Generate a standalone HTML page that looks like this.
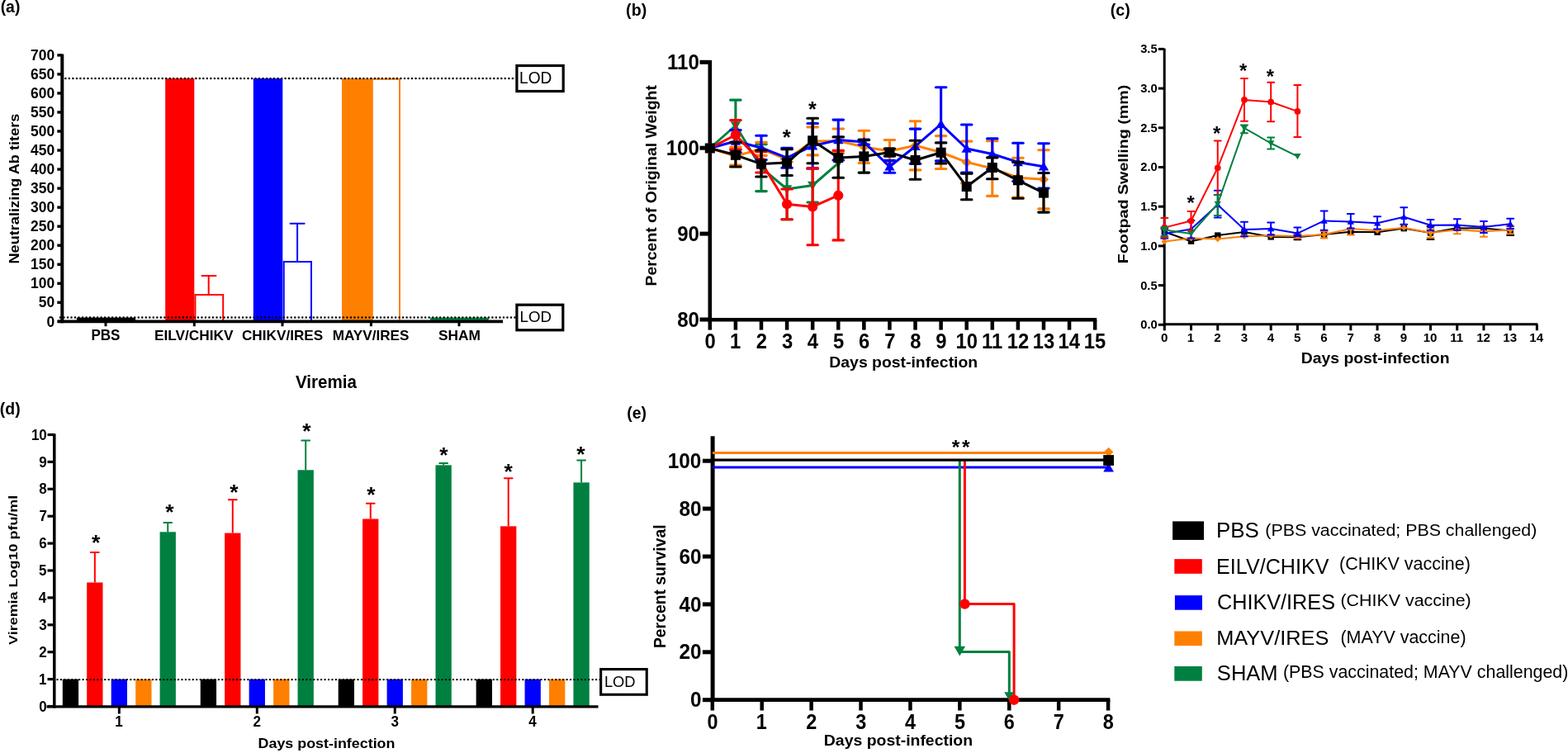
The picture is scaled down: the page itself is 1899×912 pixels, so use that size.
<!DOCTYPE html>
<html><head><meta charset="utf-8"><title>Figure</title>
<style>html,body{margin:0;padding:0;background:#fff;overflow:hidden;width:1899px;height:912px;} svg{display:block;font-family:"Liberation Sans",Arial,sans-serif;}</style>
</head><body>
<svg width="1899" height="912" viewBox="0 0 1899 912">
<rect width="1899" height="912" fill="#fff"/>
<rect x="92.90" y="384.60" width="71.20" height="4.80" fill="#000000"/>
<rect x="521.10" y="384.60" width="70.70" height="4.80" fill="#008040"/>
<rect x="200.20" y="95.00" width="35.10" height="294.40" fill="#ff0000"/>
<polyline points="236.40,389.00 236.40,357.00 270.20,357.00 270.20,389.00" fill="none" stroke="#ff0000" stroke-width="2" stroke-linejoin="miter"/>
<line x1="252.70" y1="357.00" x2="252.70" y2="334.10" stroke="#ff0000" stroke-width="2"/>
<line x1="244.50" y1="334.10" x2="261.50" y2="334.10" stroke="#ff0000" stroke-width="2.0" stroke-linecap="round"/>
<rect x="306.80" y="95.00" width="35.50" height="294.40" fill="#0000ff"/>
<polyline points="343.70,389.00 343.70,317.10 377.00,317.10 377.00,389.00" fill="none" stroke="#0000ff" stroke-width="2" stroke-linejoin="miter"/>
<line x1="360.10" y1="317.10" x2="360.10" y2="270.70" stroke="#0000ff" stroke-width="2"/>
<line x1="351.60" y1="270.70" x2="368.60" y2="270.70" stroke="#0000ff" stroke-width="2.0" stroke-linecap="round"/>
<rect x="414.00" y="95.00" width="36.00" height="294.40" fill="#ff8000"/>
<polyline points="450.80,389.00 450.80,95.80 484.00,95.80 484.00,389.00" fill="none" stroke="#ff8000" stroke-width="2" stroke-linejoin="miter"/>
<line x1="75.30" y1="65.40" x2="75.30" y2="391.30" stroke="#000" stroke-width="4"/>
<line x1="69.30" y1="389.35" x2="75.30" y2="389.35" stroke="#000" stroke-width="3.4"/>
<line x1="69.30" y1="366.31" x2="75.30" y2="366.31" stroke="#000" stroke-width="3.4"/>
<line x1="69.30" y1="343.28" x2="75.30" y2="343.28" stroke="#000" stroke-width="3.4"/>
<line x1="69.30" y1="320.25" x2="75.30" y2="320.25" stroke="#000" stroke-width="3.4"/>
<line x1="69.30" y1="297.21" x2="75.30" y2="297.21" stroke="#000" stroke-width="3.4"/>
<line x1="69.30" y1="274.18" x2="75.30" y2="274.18" stroke="#000" stroke-width="3.4"/>
<line x1="69.30" y1="251.14" x2="75.30" y2="251.14" stroke="#000" stroke-width="3.4"/>
<line x1="69.30" y1="228.11" x2="75.30" y2="228.11" stroke="#000" stroke-width="3.4"/>
<line x1="69.30" y1="205.07" x2="75.30" y2="205.07" stroke="#000" stroke-width="3.4"/>
<line x1="69.30" y1="182.04" x2="75.30" y2="182.04" stroke="#000" stroke-width="3.4"/>
<line x1="69.30" y1="159.00" x2="75.30" y2="159.00" stroke="#000" stroke-width="3.4"/>
<line x1="69.30" y1="135.97" x2="75.30" y2="135.97" stroke="#000" stroke-width="3.4"/>
<line x1="69.30" y1="112.93" x2="75.30" y2="112.93" stroke="#000" stroke-width="3.4"/>
<line x1="69.30" y1="89.90" x2="75.30" y2="89.90" stroke="#000" stroke-width="3.4"/>
<line x1="69.30" y1="66.86" x2="75.30" y2="66.86" stroke="#000" stroke-width="3.4"/>
<line x1="70.00" y1="389.40" x2="609.00" y2="389.40" stroke="#000" stroke-width="3.6"/>
<line x1="128.00" y1="389.40" x2="128.00" y2="395.20" stroke="#000" stroke-width="3"/>
<line x1="235.30" y1="389.40" x2="235.30" y2="395.20" stroke="#000" stroke-width="3"/>
<line x1="342.00" y1="389.40" x2="342.00" y2="395.20" stroke="#000" stroke-width="3"/>
<line x1="449.40" y1="389.40" x2="449.40" y2="395.20" stroke="#000" stroke-width="3"/>
<line x1="556.00" y1="389.40" x2="556.00" y2="395.20" stroke="#000" stroke-width="3"/>
<line x1="79.37" y1="95.05" x2="623.00" y2="95.05" stroke="#000" stroke-width="2.5" stroke-linecap="round" stroke-dasharray="0 4.5123"/>
<line x1="72.98" y1="384.60" x2="624.00" y2="384.60" stroke="#000" stroke-width="2.5" stroke-linecap="round" stroke-dasharray="0 4.5123"/>
<rect x="625.90" y="79.50" width="56.30" height="31.00" fill="none" stroke="#000000" stroke-width="3.2"/>
<rect x="625.90" y="369.20" width="55.90" height="30.60" fill="none" stroke="#000000" stroke-width="3.2"/>
<line x1="859.80" y1="72.90" x2="859.80" y2="389.30" stroke="#000" stroke-width="4.6"/>
<line x1="847.50" y1="387.00" x2="859.80" y2="387.00" stroke="#000" stroke-width="5"/>
<line x1="847.50" y1="283.10" x2="859.80" y2="283.10" stroke="#000" stroke-width="5"/>
<line x1="847.50" y1="179.20" x2="859.80" y2="179.20" stroke="#000" stroke-width="5"/>
<line x1="847.50" y1="75.30" x2="859.80" y2="75.30" stroke="#000" stroke-width="5"/>
<line x1="857.50" y1="387.30" x2="1328.20" y2="387.30" stroke="#000" stroke-width="4.6"/>
<line x1="859.80" y1="387.30" x2="859.80" y2="399.60" stroke="#000" stroke-width="4.5"/>
<line x1="890.89" y1="387.30" x2="890.89" y2="399.60" stroke="#000" stroke-width="4.5"/>
<line x1="921.98" y1="387.30" x2="921.98" y2="399.60" stroke="#000" stroke-width="4.5"/>
<line x1="953.07" y1="387.30" x2="953.07" y2="399.60" stroke="#000" stroke-width="4.5"/>
<line x1="984.16" y1="387.30" x2="984.16" y2="399.60" stroke="#000" stroke-width="4.5"/>
<line x1="1015.25" y1="387.30" x2="1015.25" y2="399.60" stroke="#000" stroke-width="4.5"/>
<line x1="1046.34" y1="387.30" x2="1046.34" y2="399.60" stroke="#000" stroke-width="4.5"/>
<line x1="1077.43" y1="387.30" x2="1077.43" y2="399.60" stroke="#000" stroke-width="4.5"/>
<line x1="1108.52" y1="387.30" x2="1108.52" y2="399.60" stroke="#000" stroke-width="4.5"/>
<line x1="1139.61" y1="387.30" x2="1139.61" y2="399.60" stroke="#000" stroke-width="4.5"/>
<line x1="1170.70" y1="387.30" x2="1170.70" y2="399.60" stroke="#000" stroke-width="4.5"/>
<line x1="1201.79" y1="387.30" x2="1201.79" y2="399.60" stroke="#000" stroke-width="4.5"/>
<line x1="1232.88" y1="387.30" x2="1232.88" y2="399.60" stroke="#000" stroke-width="4.5"/>
<line x1="1263.97" y1="387.30" x2="1263.97" y2="399.60" stroke="#000" stroke-width="4.5"/>
<line x1="1295.06" y1="387.30" x2="1295.06" y2="399.60" stroke="#000" stroke-width="4.5"/>
<line x1="1326.15" y1="387.30" x2="1326.15" y2="399.60" stroke="#000" stroke-width="4.5"/>
<polyline points="859.80,179.50 890.89,152.00 921.98,203.20 953.07,229.00 984.16,224.50 1015.25,197.70" fill="none" stroke="#008040" stroke-width="3.0" stroke-linejoin="round"/>
<line x1="890.89" y1="121.10" x2="890.89" y2="181.00" stroke="#008040" stroke-width="3.1"/>
<line x1="884.64" y1="121.10" x2="897.14" y2="121.10" stroke="#008040" stroke-width="3.1" stroke-linecap="round"/>
<line x1="884.64" y1="181.00" x2="897.14" y2="181.00" stroke="#008040" stroke-width="3.1" stroke-linecap="round"/>
<line x1="921.98" y1="174.80" x2="921.98" y2="231.60" stroke="#008040" stroke-width="3.1"/>
<line x1="915.73" y1="174.80" x2="928.23" y2="174.80" stroke="#008040" stroke-width="3.1" stroke-linecap="round"/>
<line x1="915.73" y1="231.60" x2="928.23" y2="231.60" stroke="#008040" stroke-width="3.1" stroke-linecap="round"/>
<line x1="953.07" y1="192.30" x2="953.07" y2="265.70" stroke="#008040" stroke-width="3.1"/>
<line x1="946.82" y1="192.30" x2="959.32" y2="192.30" stroke="#008040" stroke-width="3.1" stroke-linecap="round"/>
<line x1="946.82" y1="265.70" x2="959.32" y2="265.70" stroke="#008040" stroke-width="3.1" stroke-linecap="round"/>
<line x1="984.16" y1="204.00" x2="984.16" y2="245.00" stroke="#008040" stroke-width="3.1"/>
<line x1="977.91" y1="204.00" x2="990.41" y2="204.00" stroke="#008040" stroke-width="3.1" stroke-linecap="round"/>
<line x1="977.91" y1="245.00" x2="990.41" y2="245.00" stroke="#008040" stroke-width="3.1" stroke-linecap="round"/>
<polygon points="859.80,185.38 865.96,174.74 853.64,174.74" fill="#008040"/>
<polygon points="890.89,157.88 897.05,147.24 884.73,147.24" fill="#008040"/>
<polygon points="921.98,209.08 928.14,198.44 915.82,198.44" fill="#008040"/>
<polygon points="953.07,234.88 959.23,224.24 946.91,224.24" fill="#008040"/>
<polygon points="984.16,230.38 990.32,219.74 978.00,219.74" fill="#008040"/>
<polygon points="1015.25,203.58 1021.41,192.94 1009.09,192.94" fill="#008040"/>
<polyline points="859.80,179.50 890.89,189.00 921.98,180.40 953.07,193.00 984.16,170.90 1015.25,170.70 1046.34,177.90 1077.43,183.00 1108.52,176.30 1139.61,184.50 1170.70,196.40 1201.79,204.00 1232.88,215.20 1263.97,217.30" fill="none" stroke="#ff8000" stroke-width="3.0" stroke-linejoin="round"/>
<line x1="890.89" y1="178.40" x2="890.89" y2="200.10" stroke="#ff8000" stroke-width="3.1"/>
<line x1="884.64" y1="178.40" x2="897.14" y2="178.40" stroke="#ff8000" stroke-width="3.1" stroke-linecap="round"/>
<line x1="884.64" y1="200.10" x2="897.14" y2="200.10" stroke="#ff8000" stroke-width="3.1" stroke-linecap="round"/>
<line x1="921.98" y1="172.30" x2="921.98" y2="188.40" stroke="#ff8000" stroke-width="3.1"/>
<line x1="915.73" y1="172.30" x2="928.23" y2="172.30" stroke="#ff8000" stroke-width="3.1" stroke-linecap="round"/>
<line x1="915.73" y1="188.40" x2="928.23" y2="188.40" stroke="#ff8000" stroke-width="3.1" stroke-linecap="round"/>
<line x1="953.07" y1="190.00" x2="953.07" y2="196.00" stroke="#ff8000" stroke-width="3.1"/>
<line x1="946.82" y1="190.00" x2="959.32" y2="190.00" stroke="#ff8000" stroke-width="3.1" stroke-linecap="round"/>
<line x1="946.82" y1="196.00" x2="959.32" y2="196.00" stroke="#ff8000" stroke-width="3.1" stroke-linecap="round"/>
<line x1="984.16" y1="153.90" x2="984.16" y2="187.90" stroke="#ff8000" stroke-width="3.1"/>
<line x1="977.91" y1="153.90" x2="990.41" y2="153.90" stroke="#ff8000" stroke-width="3.1" stroke-linecap="round"/>
<line x1="977.91" y1="187.90" x2="990.41" y2="187.90" stroke="#ff8000" stroke-width="3.1" stroke-linecap="round"/>
<line x1="1015.25" y1="156.00" x2="1015.25" y2="185.40" stroke="#ff8000" stroke-width="3.1"/>
<line x1="1009.00" y1="156.00" x2="1021.50" y2="156.00" stroke="#ff8000" stroke-width="3.1" stroke-linecap="round"/>
<line x1="1009.00" y1="185.40" x2="1021.50" y2="185.40" stroke="#ff8000" stroke-width="3.1" stroke-linecap="round"/>
<line x1="1046.34" y1="158.30" x2="1046.34" y2="197.50" stroke="#ff8000" stroke-width="3.1"/>
<line x1="1040.09" y1="158.30" x2="1052.59" y2="158.30" stroke="#ff8000" stroke-width="3.1" stroke-linecap="round"/>
<line x1="1040.09" y1="197.50" x2="1052.59" y2="197.50" stroke="#ff8000" stroke-width="3.1" stroke-linecap="round"/>
<line x1="1077.43" y1="169.50" x2="1077.43" y2="196.40" stroke="#ff8000" stroke-width="3.1"/>
<line x1="1071.18" y1="169.50" x2="1083.68" y2="169.50" stroke="#ff8000" stroke-width="3.1" stroke-linecap="round"/>
<line x1="1071.18" y1="196.40" x2="1083.68" y2="196.40" stroke="#ff8000" stroke-width="3.1" stroke-linecap="round"/>
<line x1="1108.52" y1="146.70" x2="1108.52" y2="205.90" stroke="#ff8000" stroke-width="3.1"/>
<line x1="1102.27" y1="146.70" x2="1114.77" y2="146.70" stroke="#ff8000" stroke-width="3.1" stroke-linecap="round"/>
<line x1="1102.27" y1="205.90" x2="1114.77" y2="205.90" stroke="#ff8000" stroke-width="3.1" stroke-linecap="round"/>
<line x1="1139.61" y1="164.60" x2="1139.61" y2="204.50" stroke="#ff8000" stroke-width="3.1"/>
<line x1="1133.36" y1="164.60" x2="1145.86" y2="164.60" stroke="#ff8000" stroke-width="3.1" stroke-linecap="round"/>
<line x1="1133.36" y1="204.50" x2="1145.86" y2="204.50" stroke="#ff8000" stroke-width="3.1" stroke-linecap="round"/>
<line x1="1170.70" y1="171.10" x2="1170.70" y2="221.70" stroke="#ff8000" stroke-width="3.1"/>
<line x1="1164.45" y1="171.10" x2="1176.95" y2="171.10" stroke="#ff8000" stroke-width="3.1" stroke-linecap="round"/>
<line x1="1164.45" y1="221.70" x2="1176.95" y2="221.70" stroke="#ff8000" stroke-width="3.1" stroke-linecap="round"/>
<line x1="1201.79" y1="170.70" x2="1201.79" y2="237.40" stroke="#ff8000" stroke-width="3.1"/>
<line x1="1195.54" y1="170.70" x2="1208.04" y2="170.70" stroke="#ff8000" stroke-width="3.1" stroke-linecap="round"/>
<line x1="1195.54" y1="237.40" x2="1208.04" y2="237.40" stroke="#ff8000" stroke-width="3.1" stroke-linecap="round"/>
<line x1="1232.88" y1="191.30" x2="1232.88" y2="239.00" stroke="#ff8000" stroke-width="3.1"/>
<line x1="1226.63" y1="191.30" x2="1239.13" y2="191.30" stroke="#ff8000" stroke-width="3.1" stroke-linecap="round"/>
<line x1="1226.63" y1="239.00" x2="1239.13" y2="239.00" stroke="#ff8000" stroke-width="3.1" stroke-linecap="round"/>
<line x1="1263.97" y1="181.70" x2="1263.97" y2="252.90" stroke="#ff8000" stroke-width="3.1"/>
<line x1="1257.72" y1="181.70" x2="1270.22" y2="181.70" stroke="#ff8000" stroke-width="3.1" stroke-linecap="round"/>
<line x1="1257.72" y1="252.90" x2="1270.22" y2="252.90" stroke="#ff8000" stroke-width="3.1" stroke-linecap="round"/>
<polygon points="859.80,173.40 865.90,179.50 859.80,185.60 853.70,179.50" fill="#ff8000"/>
<polygon points="890.89,182.90 896.99,189.00 890.89,195.10 884.79,189.00" fill="#ff8000"/>
<polygon points="921.98,174.30 928.08,180.40 921.98,186.50 915.88,180.40" fill="#ff8000"/>
<polygon points="953.07,186.90 959.17,193.00 953.07,199.10 946.97,193.00" fill="#ff8000"/>
<polygon points="984.16,164.80 990.26,170.90 984.16,177.00 978.06,170.90" fill="#ff8000"/>
<polygon points="1015.25,164.60 1021.35,170.70 1015.25,176.80 1009.15,170.70" fill="#ff8000"/>
<polygon points="1046.34,171.80 1052.44,177.90 1046.34,184.00 1040.24,177.90" fill="#ff8000"/>
<polygon points="1077.43,176.90 1083.53,183.00 1077.43,189.10 1071.33,183.00" fill="#ff8000"/>
<polygon points="1108.52,170.20 1114.62,176.30 1108.52,182.40 1102.42,176.30" fill="#ff8000"/>
<polygon points="1139.61,178.40 1145.71,184.50 1139.61,190.60 1133.51,184.50" fill="#ff8000"/>
<polygon points="1170.70,190.30 1176.80,196.40 1170.70,202.50 1164.60,196.40" fill="#ff8000"/>
<polygon points="1201.79,197.90 1207.89,204.00 1201.79,210.10 1195.69,204.00" fill="#ff8000"/>
<polygon points="1232.88,209.10 1238.98,215.20 1232.88,221.30 1226.78,215.20" fill="#ff8000"/>
<polygon points="1263.97,211.20 1270.07,217.30 1263.97,223.40 1257.87,217.30" fill="#ff8000"/>
<polyline points="859.80,179.50 890.89,171.00 921.98,179.00 953.07,191.20 984.16,176.70 1015.25,169.50 1046.34,172.00 1077.43,201.80 1108.52,177.20 1139.61,150.30 1170.70,180.00 1201.79,186.50 1232.88,196.40 1263.97,201.80" fill="none" stroke="#0000ff" stroke-width="3.0" stroke-linejoin="round"/>
<line x1="890.89" y1="157.60" x2="890.89" y2="184.50" stroke="#0000ff" stroke-width="3.1"/>
<line x1="884.64" y1="157.60" x2="897.14" y2="157.60" stroke="#0000ff" stroke-width="3.1" stroke-linecap="round"/>
<line x1="884.64" y1="184.50" x2="897.14" y2="184.50" stroke="#0000ff" stroke-width="3.1" stroke-linecap="round"/>
<line x1="921.98" y1="164.20" x2="921.98" y2="193.60" stroke="#0000ff" stroke-width="3.1"/>
<line x1="915.73" y1="164.20" x2="928.23" y2="164.20" stroke="#0000ff" stroke-width="3.1" stroke-linecap="round"/>
<line x1="915.73" y1="193.60" x2="928.23" y2="193.60" stroke="#0000ff" stroke-width="3.1" stroke-linecap="round"/>
<line x1="953.07" y1="179.20" x2="953.07" y2="203.20" stroke="#0000ff" stroke-width="3.1"/>
<line x1="946.82" y1="179.20" x2="959.32" y2="179.20" stroke="#0000ff" stroke-width="3.1" stroke-linecap="round"/>
<line x1="946.82" y1="203.20" x2="959.32" y2="203.20" stroke="#0000ff" stroke-width="3.1" stroke-linecap="round"/>
<line x1="984.16" y1="149.50" x2="984.16" y2="203.90" stroke="#0000ff" stroke-width="3.1"/>
<line x1="977.91" y1="149.50" x2="990.41" y2="149.50" stroke="#0000ff" stroke-width="3.1" stroke-linecap="round"/>
<line x1="977.91" y1="203.90" x2="990.41" y2="203.90" stroke="#0000ff" stroke-width="3.1" stroke-linecap="round"/>
<line x1="1015.25" y1="145.10" x2="1015.25" y2="193.90" stroke="#0000ff" stroke-width="3.1"/>
<line x1="1009.00" y1="145.10" x2="1021.50" y2="145.10" stroke="#0000ff" stroke-width="3.1" stroke-linecap="round"/>
<line x1="1009.00" y1="193.90" x2="1021.50" y2="193.90" stroke="#0000ff" stroke-width="3.1" stroke-linecap="round"/>
<line x1="1046.34" y1="169.00" x2="1046.34" y2="175.00" stroke="#0000ff" stroke-width="3.1"/>
<line x1="1040.09" y1="169.00" x2="1052.59" y2="169.00" stroke="#0000ff" stroke-width="3.1" stroke-linecap="round"/>
<line x1="1040.09" y1="175.00" x2="1052.59" y2="175.00" stroke="#0000ff" stroke-width="3.1" stroke-linecap="round"/>
<line x1="1077.43" y1="194.40" x2="1077.43" y2="209.20" stroke="#0000ff" stroke-width="3.1"/>
<line x1="1071.18" y1="194.40" x2="1083.68" y2="194.40" stroke="#0000ff" stroke-width="3.1" stroke-linecap="round"/>
<line x1="1071.18" y1="209.20" x2="1083.68" y2="209.20" stroke="#0000ff" stroke-width="3.1" stroke-linecap="round"/>
<line x1="1108.52" y1="156.10" x2="1108.52" y2="198.30" stroke="#0000ff" stroke-width="3.1"/>
<line x1="1102.27" y1="156.10" x2="1114.77" y2="156.10" stroke="#0000ff" stroke-width="3.1" stroke-linecap="round"/>
<line x1="1102.27" y1="198.30" x2="1114.77" y2="198.30" stroke="#0000ff" stroke-width="3.1" stroke-linecap="round"/>
<line x1="1139.61" y1="105.80" x2="1139.61" y2="194.80" stroke="#0000ff" stroke-width="3.1"/>
<line x1="1133.36" y1="105.80" x2="1145.86" y2="105.80" stroke="#0000ff" stroke-width="3.1" stroke-linecap="round"/>
<line x1="1133.36" y1="194.80" x2="1145.86" y2="194.80" stroke="#0000ff" stroke-width="3.1" stroke-linecap="round"/>
<line x1="1170.70" y1="151.00" x2="1170.70" y2="209.00" stroke="#0000ff" stroke-width="3.1"/>
<line x1="1164.45" y1="151.00" x2="1176.95" y2="151.00" stroke="#0000ff" stroke-width="3.1" stroke-linecap="round"/>
<line x1="1164.45" y1="209.00" x2="1176.95" y2="209.00" stroke="#0000ff" stroke-width="3.1" stroke-linecap="round"/>
<line x1="1201.79" y1="167.90" x2="1201.79" y2="205.10" stroke="#0000ff" stroke-width="3.1"/>
<line x1="1195.54" y1="167.90" x2="1208.04" y2="167.90" stroke="#0000ff" stroke-width="3.1" stroke-linecap="round"/>
<line x1="1195.54" y1="205.10" x2="1208.04" y2="205.10" stroke="#0000ff" stroke-width="3.1" stroke-linecap="round"/>
<line x1="1232.88" y1="173.30" x2="1232.88" y2="219.50" stroke="#0000ff" stroke-width="3.1"/>
<line x1="1226.63" y1="173.30" x2="1239.13" y2="173.30" stroke="#0000ff" stroke-width="3.1" stroke-linecap="round"/>
<line x1="1226.63" y1="219.50" x2="1239.13" y2="219.50" stroke="#0000ff" stroke-width="3.1" stroke-linecap="round"/>
<line x1="1263.97" y1="173.80" x2="1263.97" y2="228.00" stroke="#0000ff" stroke-width="3.1"/>
<line x1="1257.72" y1="173.80" x2="1270.22" y2="173.80" stroke="#0000ff" stroke-width="3.1" stroke-linecap="round"/>
<line x1="1257.72" y1="228.00" x2="1270.22" y2="228.00" stroke="#0000ff" stroke-width="3.1" stroke-linecap="round"/>
<polygon points="859.80,173.62 865.96,184.26 853.64,184.26" fill="#0000ff"/>
<polygon points="890.89,165.12 897.05,175.76 884.73,175.76" fill="#0000ff"/>
<polygon points="921.98,173.12 928.14,183.76 915.82,183.76" fill="#0000ff"/>
<polygon points="953.07,185.32 959.23,195.96 946.91,195.96" fill="#0000ff"/>
<polygon points="984.16,170.82 990.32,181.46 978.00,181.46" fill="#0000ff"/>
<polygon points="1015.25,163.62 1021.41,174.26 1009.09,174.26" fill="#0000ff"/>
<polygon points="1046.34,166.12 1052.50,176.76 1040.18,176.76" fill="#0000ff"/>
<polygon points="1077.43,195.92 1083.59,206.56 1071.27,206.56" fill="#0000ff"/>
<polygon points="1108.52,171.32 1114.68,181.96 1102.36,181.96" fill="#0000ff"/>
<polygon points="1139.61,144.42 1145.77,155.06 1133.45,155.06" fill="#0000ff"/>
<polygon points="1170.70,174.12 1176.86,184.76 1164.54,184.76" fill="#0000ff"/>
<polygon points="1201.79,180.62 1207.95,191.26 1195.63,191.26" fill="#0000ff"/>
<polygon points="1232.88,190.52 1239.04,201.16 1226.72,201.16" fill="#0000ff"/>
<polygon points="1263.97,195.92 1270.13,206.56 1257.81,206.56" fill="#0000ff"/>
<polyline points="859.80,179.50 890.89,163.40 921.98,196.40 953.07,247.30 984.16,250.40 1015.25,236.70" fill="none" stroke="#ff0000" stroke-width="3.0" stroke-linejoin="round"/>
<line x1="890.89" y1="145.60" x2="890.89" y2="181.30" stroke="#ff0000" stroke-width="3.1"/>
<line x1="884.64" y1="145.60" x2="897.14" y2="145.60" stroke="#ff0000" stroke-width="3.1" stroke-linecap="round"/>
<line x1="884.64" y1="181.30" x2="897.14" y2="181.30" stroke="#ff0000" stroke-width="3.1" stroke-linecap="round"/>
<line x1="921.98" y1="183.80" x2="921.98" y2="209.00" stroke="#ff0000" stroke-width="3.1"/>
<line x1="915.73" y1="183.80" x2="928.23" y2="183.80" stroke="#ff0000" stroke-width="3.1" stroke-linecap="round"/>
<line x1="915.73" y1="209.00" x2="928.23" y2="209.00" stroke="#ff0000" stroke-width="3.1" stroke-linecap="round"/>
<line x1="953.07" y1="229.00" x2="953.07" y2="265.70" stroke="#ff0000" stroke-width="3.1"/>
<line x1="946.82" y1="229.00" x2="959.32" y2="229.00" stroke="#ff0000" stroke-width="3.1" stroke-linecap="round"/>
<line x1="946.82" y1="265.70" x2="959.32" y2="265.70" stroke="#ff0000" stroke-width="3.1" stroke-linecap="round"/>
<line x1="984.16" y1="203.90" x2="984.16" y2="296.80" stroke="#ff0000" stroke-width="3.1"/>
<line x1="977.91" y1="203.90" x2="990.41" y2="203.90" stroke="#ff0000" stroke-width="3.1" stroke-linecap="round"/>
<line x1="977.91" y1="296.80" x2="990.41" y2="296.80" stroke="#ff0000" stroke-width="3.1" stroke-linecap="round"/>
<line x1="1015.25" y1="182.40" x2="1015.25" y2="290.90" stroke="#ff0000" stroke-width="3.1"/>
<line x1="1009.00" y1="182.40" x2="1021.50" y2="182.40" stroke="#ff0000" stroke-width="3.1" stroke-linecap="round"/>
<line x1="1009.00" y1="290.90" x2="1021.50" y2="290.90" stroke="#ff0000" stroke-width="3.1" stroke-linecap="round"/>
<circle cx="859.80" cy="179.50" r="6.10" fill="#ff0000"/>
<circle cx="890.89" cy="163.40" r="6.10" fill="#ff0000"/>
<circle cx="921.98" cy="196.40" r="6.10" fill="#ff0000"/>
<circle cx="953.07" cy="247.30" r="6.10" fill="#ff0000"/>
<circle cx="984.16" cy="250.40" r="6.10" fill="#ff0000"/>
<circle cx="1015.25" cy="236.70" r="6.10" fill="#ff0000"/>
<polyline points="859.80,179.50 890.89,187.80 921.98,198.60 953.07,197.10 984.16,170.30 1015.25,191.10 1046.34,189.40 1077.43,184.60 1108.52,194.00 1139.61,184.70 1170.70,226.00 1201.79,203.00 1232.88,218.30 1263.97,233.60" fill="none" stroke="#000000" stroke-width="3.0" stroke-linejoin="round"/>
<line x1="890.89" y1="172.40" x2="890.89" y2="202.00" stroke="#000000" stroke-width="3.1"/>
<line x1="884.64" y1="172.40" x2="897.14" y2="172.40" stroke="#000000" stroke-width="3.1" stroke-linecap="round"/>
<line x1="884.64" y1="202.00" x2="897.14" y2="202.00" stroke="#000000" stroke-width="3.1" stroke-linecap="round"/>
<line x1="921.98" y1="182.00" x2="921.98" y2="214.00" stroke="#000000" stroke-width="3.1"/>
<line x1="915.73" y1="182.00" x2="928.23" y2="182.00" stroke="#000000" stroke-width="3.1" stroke-linecap="round"/>
<line x1="915.73" y1="214.00" x2="928.23" y2="214.00" stroke="#000000" stroke-width="3.1" stroke-linecap="round"/>
<line x1="953.07" y1="180.80" x2="953.07" y2="212.50" stroke="#000000" stroke-width="3.1"/>
<line x1="946.82" y1="180.80" x2="959.32" y2="180.80" stroke="#000000" stroke-width="3.1" stroke-linecap="round"/>
<line x1="946.82" y1="212.50" x2="959.32" y2="212.50" stroke="#000000" stroke-width="3.1" stroke-linecap="round"/>
<line x1="984.16" y1="143.30" x2="984.16" y2="197.70" stroke="#000000" stroke-width="3.1"/>
<line x1="977.91" y1="143.30" x2="990.41" y2="143.30" stroke="#000000" stroke-width="3.1" stroke-linecap="round"/>
<line x1="977.91" y1="197.70" x2="990.41" y2="197.70" stroke="#000000" stroke-width="3.1" stroke-linecap="round"/>
<line x1="1015.25" y1="165.90" x2="1015.25" y2="215.30" stroke="#000000" stroke-width="3.1"/>
<line x1="1009.00" y1="165.90" x2="1021.50" y2="165.90" stroke="#000000" stroke-width="3.1" stroke-linecap="round"/>
<line x1="1009.00" y1="215.30" x2="1021.50" y2="215.30" stroke="#000000" stroke-width="3.1" stroke-linecap="round"/>
<line x1="1046.34" y1="169.60" x2="1046.34" y2="209.10" stroke="#000000" stroke-width="3.1"/>
<line x1="1040.09" y1="169.60" x2="1052.59" y2="169.60" stroke="#000000" stroke-width="3.1" stroke-linecap="round"/>
<line x1="1040.09" y1="209.10" x2="1052.59" y2="209.10" stroke="#000000" stroke-width="3.1" stroke-linecap="round"/>
<line x1="1077.43" y1="180.00" x2="1077.43" y2="189.00" stroke="#000000" stroke-width="3.1"/>
<line x1="1071.18" y1="180.00" x2="1083.68" y2="180.00" stroke="#000000" stroke-width="3.1" stroke-linecap="round"/>
<line x1="1071.18" y1="189.00" x2="1083.68" y2="189.00" stroke="#000000" stroke-width="3.1" stroke-linecap="round"/>
<line x1="1108.52" y1="170.20" x2="1108.52" y2="217.30" stroke="#000000" stroke-width="3.1"/>
<line x1="1102.27" y1="170.20" x2="1114.77" y2="170.20" stroke="#000000" stroke-width="3.1" stroke-linecap="round"/>
<line x1="1102.27" y1="217.30" x2="1114.77" y2="217.30" stroke="#000000" stroke-width="3.1" stroke-linecap="round"/>
<line x1="1139.61" y1="172.90" x2="1139.61" y2="197.90" stroke="#000000" stroke-width="3.1"/>
<line x1="1133.36" y1="172.90" x2="1145.86" y2="172.90" stroke="#000000" stroke-width="3.1" stroke-linecap="round"/>
<line x1="1133.36" y1="197.90" x2="1145.86" y2="197.90" stroke="#000000" stroke-width="3.1" stroke-linecap="round"/>
<line x1="1170.70" y1="210.20" x2="1170.70" y2="241.80" stroke="#000000" stroke-width="3.1"/>
<line x1="1164.45" y1="210.20" x2="1176.95" y2="210.20" stroke="#000000" stroke-width="3.1" stroke-linecap="round"/>
<line x1="1164.45" y1="241.80" x2="1176.95" y2="241.80" stroke="#000000" stroke-width="3.1" stroke-linecap="round"/>
<line x1="1201.79" y1="190.90" x2="1201.79" y2="216.80" stroke="#000000" stroke-width="3.1"/>
<line x1="1195.54" y1="190.90" x2="1208.04" y2="190.90" stroke="#000000" stroke-width="3.1" stroke-linecap="round"/>
<line x1="1195.54" y1="216.80" x2="1208.04" y2="216.80" stroke="#000000" stroke-width="3.1" stroke-linecap="round"/>
<line x1="1232.88" y1="196.40" x2="1232.88" y2="240.20" stroke="#000000" stroke-width="3.1"/>
<line x1="1226.63" y1="196.40" x2="1239.13" y2="196.40" stroke="#000000" stroke-width="3.1" stroke-linecap="round"/>
<line x1="1226.63" y1="240.20" x2="1239.13" y2="240.20" stroke="#000000" stroke-width="3.1" stroke-linecap="round"/>
<line x1="1263.97" y1="209.50" x2="1263.97" y2="257.10" stroke="#000000" stroke-width="3.1"/>
<line x1="1257.72" y1="209.50" x2="1270.22" y2="209.50" stroke="#000000" stroke-width="3.1" stroke-linecap="round"/>
<line x1="1257.72" y1="257.10" x2="1270.22" y2="257.10" stroke="#000000" stroke-width="3.1" stroke-linecap="round"/>
<rect x="853.80" y="173.50" width="12.00" height="12.00" fill="#000000"/>
<rect x="884.89" y="181.80" width="12.00" height="12.00" fill="#000000"/>
<rect x="915.98" y="192.60" width="12.00" height="12.00" fill="#000000"/>
<rect x="947.07" y="191.10" width="12.00" height="12.00" fill="#000000"/>
<rect x="978.16" y="164.30" width="12.00" height="12.00" fill="#000000"/>
<rect x="1009.25" y="185.10" width="12.00" height="12.00" fill="#000000"/>
<rect x="1040.34" y="183.40" width="12.00" height="12.00" fill="#000000"/>
<rect x="1071.43" y="178.60" width="12.00" height="12.00" fill="#000000"/>
<rect x="1102.52" y="188.00" width="12.00" height="12.00" fill="#000000"/>
<rect x="1133.61" y="178.70" width="12.00" height="12.00" fill="#000000"/>
<rect x="1164.70" y="220.00" width="12.00" height="12.00" fill="#000000"/>
<rect x="1195.79" y="197.00" width="12.00" height="12.00" fill="#000000"/>
<rect x="1226.88" y="212.30" width="12.00" height="12.00" fill="#000000"/>
<rect x="1257.97" y="227.60" width="12.00" height="12.00" fill="#000000"/>
<line x1="1410.20" y1="58.80" x2="1410.20" y2="394.80" stroke="#000" stroke-width="3.0"/>
<line x1="1402.80" y1="393.30" x2="1410.20" y2="393.30" stroke="#000" stroke-width="3.0"/>
<line x1="1402.80" y1="345.60" x2="1410.20" y2="345.60" stroke="#000" stroke-width="3.0"/>
<line x1="1402.80" y1="297.90" x2="1410.20" y2="297.90" stroke="#000" stroke-width="3.0"/>
<line x1="1402.80" y1="250.20" x2="1410.20" y2="250.20" stroke="#000" stroke-width="3.0"/>
<line x1="1402.80" y1="202.50" x2="1410.20" y2="202.50" stroke="#000" stroke-width="3.0"/>
<line x1="1402.80" y1="154.80" x2="1410.20" y2="154.80" stroke="#000" stroke-width="3.0"/>
<line x1="1402.80" y1="107.10" x2="1410.20" y2="107.10" stroke="#000" stroke-width="3.0"/>
<line x1="1402.80" y1="59.40" x2="1410.20" y2="59.40" stroke="#000" stroke-width="3.0"/>
<line x1="1408.80" y1="392.80" x2="1862.30" y2="392.80" stroke="#000" stroke-width="3.0"/>
<line x1="1410.30" y1="392.80" x2="1410.30" y2="400.30" stroke="#000" stroke-width="3.0"/>
<line x1="1442.52" y1="392.80" x2="1442.52" y2="400.30" stroke="#000" stroke-width="3.0"/>
<line x1="1474.74" y1="392.80" x2="1474.74" y2="400.30" stroke="#000" stroke-width="3.0"/>
<line x1="1506.96" y1="392.80" x2="1506.96" y2="400.30" stroke="#000" stroke-width="3.0"/>
<line x1="1539.18" y1="392.80" x2="1539.18" y2="400.30" stroke="#000" stroke-width="3.0"/>
<line x1="1571.40" y1="392.80" x2="1571.40" y2="400.30" stroke="#000" stroke-width="3.0"/>
<line x1="1603.62" y1="392.80" x2="1603.62" y2="400.30" stroke="#000" stroke-width="3.0"/>
<line x1="1635.84" y1="392.80" x2="1635.84" y2="400.30" stroke="#000" stroke-width="3.0"/>
<line x1="1668.06" y1="392.80" x2="1668.06" y2="400.30" stroke="#000" stroke-width="3.0"/>
<line x1="1700.28" y1="392.80" x2="1700.28" y2="400.30" stroke="#000" stroke-width="3.0"/>
<line x1="1732.50" y1="392.80" x2="1732.50" y2="400.30" stroke="#000" stroke-width="3.0"/>
<line x1="1764.72" y1="392.80" x2="1764.72" y2="400.30" stroke="#000" stroke-width="3.0"/>
<line x1="1796.94" y1="392.80" x2="1796.94" y2="400.30" stroke="#000" stroke-width="3.0"/>
<line x1="1829.16" y1="392.80" x2="1829.16" y2="400.30" stroke="#000" stroke-width="3.0"/>
<line x1="1861.38" y1="392.80" x2="1861.38" y2="400.30" stroke="#000" stroke-width="3.0"/>
<polyline points="1410.30,280.70 1442.52,292.20 1474.74,285.10 1506.96,280.90 1539.18,286.90 1571.40,287.20 1603.62,284.00 1635.84,280.70 1668.06,281.20 1700.28,276.60 1732.50,282.00 1764.72,276.20 1796.94,276.60 1829.16,279.50" fill="none" stroke="#000000" stroke-width="2.0" stroke-linejoin="round"/>
<line x1="1571.40" y1="284.00" x2="1571.40" y2="290.20" stroke="#000000" stroke-width="2.0"/>
<line x1="1567.40" y1="284.00" x2="1575.40" y2="284.00" stroke="#000000" stroke-width="2.0" stroke-linecap="round"/>
<line x1="1567.40" y1="290.20" x2="1575.40" y2="290.20" stroke="#000000" stroke-width="2.0" stroke-linecap="round"/>
<line x1="1732.50" y1="273.90" x2="1732.50" y2="290.10" stroke="#000000" stroke-width="2.0"/>
<line x1="1728.50" y1="273.90" x2="1736.50" y2="273.90" stroke="#000000" stroke-width="2.0" stroke-linecap="round"/>
<line x1="1728.50" y1="290.10" x2="1736.50" y2="290.10" stroke="#000000" stroke-width="2.0" stroke-linecap="round"/>
<line x1="1829.16" y1="274.00" x2="1829.16" y2="285.00" stroke="#000000" stroke-width="2.0"/>
<line x1="1825.16" y1="274.00" x2="1833.16" y2="274.00" stroke="#000000" stroke-width="2.0" stroke-linecap="round"/>
<line x1="1825.16" y1="285.00" x2="1833.16" y2="285.00" stroke="#000000" stroke-width="2.0" stroke-linecap="round"/>
<rect x="1406.60" y="277.00" width="7.40" height="7.40" fill="#000000"/>
<rect x="1438.82" y="288.50" width="7.40" height="7.40" fill="#000000"/>
<rect x="1471.04" y="281.40" width="7.40" height="7.40" fill="#000000"/>
<rect x="1503.26" y="277.20" width="7.40" height="7.40" fill="#000000"/>
<rect x="1535.48" y="283.20" width="7.40" height="7.40" fill="#000000"/>
<rect x="1567.70" y="283.50" width="7.40" height="7.40" fill="#000000"/>
<rect x="1599.92" y="280.30" width="7.40" height="7.40" fill="#000000"/>
<rect x="1632.14" y="277.00" width="7.40" height="7.40" fill="#000000"/>
<rect x="1664.36" y="277.50" width="7.40" height="7.40" fill="#000000"/>
<rect x="1696.58" y="272.90" width="7.40" height="7.40" fill="#000000"/>
<rect x="1728.80" y="278.30" width="7.40" height="7.40" fill="#000000"/>
<rect x="1761.02" y="272.50" width="7.40" height="7.40" fill="#000000"/>
<rect x="1793.24" y="272.90" width="7.40" height="7.40" fill="#000000"/>
<rect x="1825.46" y="275.80" width="7.40" height="7.40" fill="#000000"/>
<polyline points="1410.30,292.50 1442.52,288.60 1474.74,289.50 1506.96,286.30 1539.18,285.20 1571.40,285.90 1603.62,284.00 1635.84,276.90 1668.06,279.30 1700.28,275.80 1732.50,281.90 1764.72,278.30 1796.94,280.30 1829.16,278.50" fill="none" stroke="#ff8000" stroke-width="2.0" stroke-linejoin="round"/>
<line x1="1571.40" y1="283.00" x2="1571.40" y2="288.50" stroke="#ff8000" stroke-width="2.0"/>
<line x1="1567.40" y1="283.00" x2="1575.40" y2="283.00" stroke="#ff8000" stroke-width="2.0" stroke-linecap="round"/>
<line x1="1567.40" y1="288.50" x2="1575.40" y2="288.50" stroke="#ff8000" stroke-width="2.0" stroke-linecap="round"/>
<line x1="1603.62" y1="280.20" x2="1603.62" y2="288.60" stroke="#ff8000" stroke-width="2.0"/>
<line x1="1599.62" y1="280.20" x2="1607.62" y2="280.20" stroke="#ff8000" stroke-width="2.0" stroke-linecap="round"/>
<line x1="1599.62" y1="288.60" x2="1607.62" y2="288.60" stroke="#ff8000" stroke-width="2.0" stroke-linecap="round"/>
<line x1="1635.84" y1="269.30" x2="1635.84" y2="284.50" stroke="#ff8000" stroke-width="2.0"/>
<line x1="1631.84" y1="269.30" x2="1639.84" y2="269.30" stroke="#ff8000" stroke-width="2.0" stroke-linecap="round"/>
<line x1="1631.84" y1="284.50" x2="1639.84" y2="284.50" stroke="#ff8000" stroke-width="2.0" stroke-linecap="round"/>
<line x1="1732.50" y1="276.40" x2="1732.50" y2="288.10" stroke="#ff8000" stroke-width="2.0"/>
<line x1="1728.50" y1="276.40" x2="1736.50" y2="276.40" stroke="#ff8000" stroke-width="2.0" stroke-linecap="round"/>
<line x1="1728.50" y1="288.10" x2="1736.50" y2="288.10" stroke="#ff8000" stroke-width="2.0" stroke-linecap="round"/>
<line x1="1764.72" y1="273.40" x2="1764.72" y2="283.20" stroke="#ff8000" stroke-width="2.0"/>
<line x1="1760.72" y1="273.40" x2="1768.72" y2="273.40" stroke="#ff8000" stroke-width="2.0" stroke-linecap="round"/>
<line x1="1760.72" y1="283.20" x2="1768.72" y2="283.20" stroke="#ff8000" stroke-width="2.0" stroke-linecap="round"/>
<line x1="1796.94" y1="273.80" x2="1796.94" y2="286.80" stroke="#ff8000" stroke-width="2.0"/>
<line x1="1792.94" y1="273.80" x2="1800.94" y2="273.80" stroke="#ff8000" stroke-width="2.0" stroke-linecap="round"/>
<line x1="1792.94" y1="286.80" x2="1800.94" y2="286.80" stroke="#ff8000" stroke-width="2.0" stroke-linecap="round"/>
<line x1="1829.16" y1="273.40" x2="1829.16" y2="283.20" stroke="#ff8000" stroke-width="2.0"/>
<line x1="1825.16" y1="273.40" x2="1833.16" y2="273.40" stroke="#ff8000" stroke-width="2.0" stroke-linecap="round"/>
<line x1="1825.16" y1="283.20" x2="1833.16" y2="283.20" stroke="#ff8000" stroke-width="2.0" stroke-linecap="round"/>
<polygon points="1410.30,288.80 1414.00,292.50 1410.30,296.20 1406.60,292.50" fill="#ff8000"/>
<polygon points="1442.52,284.90 1446.22,288.60 1442.52,292.30 1438.82,288.60" fill="#ff8000"/>
<polygon points="1474.74,285.80 1478.44,289.50 1474.74,293.20 1471.04,289.50" fill="#ff8000"/>
<polygon points="1506.96,282.60 1510.66,286.30 1506.96,290.00 1503.26,286.30" fill="#ff8000"/>
<polygon points="1539.18,281.50 1542.88,285.20 1539.18,288.90 1535.48,285.20" fill="#ff8000"/>
<polygon points="1571.40,282.20 1575.10,285.90 1571.40,289.60 1567.70,285.90" fill="#ff8000"/>
<polygon points="1603.62,280.30 1607.32,284.00 1603.62,287.70 1599.92,284.00" fill="#ff8000"/>
<polygon points="1635.84,273.20 1639.54,276.90 1635.84,280.60 1632.14,276.90" fill="#ff8000"/>
<polygon points="1668.06,275.60 1671.76,279.30 1668.06,283.00 1664.36,279.30" fill="#ff8000"/>
<polygon points="1700.28,272.10 1703.98,275.80 1700.28,279.50 1696.58,275.80" fill="#ff8000"/>
<polygon points="1732.50,278.20 1736.20,281.90 1732.50,285.60 1728.80,281.90" fill="#ff8000"/>
<polygon points="1764.72,274.60 1768.42,278.30 1764.72,282.00 1761.02,278.30" fill="#ff8000"/>
<polygon points="1796.94,276.60 1800.64,280.30 1796.94,284.00 1793.24,280.30" fill="#ff8000"/>
<polygon points="1829.16,274.80 1832.86,278.50 1829.16,282.20 1825.46,278.50" fill="#ff8000"/>
<polyline points="1410.30,282.90 1442.52,277.60 1474.74,248.00 1506.96,278.10 1539.18,277.00 1571.40,282.60 1603.62,267.40 1635.84,268.40 1668.06,270.30 1700.28,262.80 1732.50,272.80 1764.72,272.60 1796.94,275.00 1829.16,271.30" fill="none" stroke="#0000ff" stroke-width="2.0" stroke-linejoin="round"/>
<line x1="1410.30" y1="277.00" x2="1410.30" y2="288.80" stroke="#0000ff" stroke-width="2.0"/>
<line x1="1406.30" y1="277.00" x2="1414.30" y2="277.00" stroke="#0000ff" stroke-width="2.0" stroke-linecap="round"/>
<line x1="1406.30" y1="288.80" x2="1414.30" y2="288.80" stroke="#0000ff" stroke-width="2.0" stroke-linecap="round"/>
<line x1="1442.52" y1="267.10" x2="1442.52" y2="288.40" stroke="#0000ff" stroke-width="2.0"/>
<line x1="1438.52" y1="267.10" x2="1446.52" y2="267.10" stroke="#0000ff" stroke-width="2.0" stroke-linecap="round"/>
<line x1="1438.52" y1="288.40" x2="1446.52" y2="288.40" stroke="#0000ff" stroke-width="2.0" stroke-linecap="round"/>
<line x1="1474.74" y1="230.70" x2="1474.74" y2="263.60" stroke="#0000ff" stroke-width="2.0"/>
<line x1="1470.74" y1="230.70" x2="1478.74" y2="230.70" stroke="#0000ff" stroke-width="2.0" stroke-linecap="round"/>
<line x1="1470.74" y1="263.60" x2="1478.74" y2="263.60" stroke="#0000ff" stroke-width="2.0" stroke-linecap="round"/>
<line x1="1506.96" y1="268.80" x2="1506.96" y2="286.30" stroke="#0000ff" stroke-width="2.0"/>
<line x1="1502.96" y1="268.80" x2="1510.96" y2="268.80" stroke="#0000ff" stroke-width="2.0" stroke-linecap="round"/>
<line x1="1502.96" y1="286.30" x2="1510.96" y2="286.30" stroke="#0000ff" stroke-width="2.0" stroke-linecap="round"/>
<line x1="1539.18" y1="269.60" x2="1539.18" y2="284.40" stroke="#0000ff" stroke-width="2.0"/>
<line x1="1535.18" y1="269.60" x2="1543.18" y2="269.60" stroke="#0000ff" stroke-width="2.0" stroke-linecap="round"/>
<line x1="1535.18" y1="284.40" x2="1543.18" y2="284.40" stroke="#0000ff" stroke-width="2.0" stroke-linecap="round"/>
<line x1="1571.40" y1="275.50" x2="1571.40" y2="286.00" stroke="#0000ff" stroke-width="2.0"/>
<line x1="1567.40" y1="275.50" x2="1575.40" y2="275.50" stroke="#0000ff" stroke-width="2.0" stroke-linecap="round"/>
<line x1="1567.40" y1="286.00" x2="1575.40" y2="286.00" stroke="#0000ff" stroke-width="2.0" stroke-linecap="round"/>
<line x1="1603.62" y1="255.40" x2="1603.62" y2="278.80" stroke="#0000ff" stroke-width="2.0"/>
<line x1="1599.62" y1="255.40" x2="1607.62" y2="255.40" stroke="#0000ff" stroke-width="2.0" stroke-linecap="round"/>
<line x1="1599.62" y1="278.80" x2="1607.62" y2="278.80" stroke="#0000ff" stroke-width="2.0" stroke-linecap="round"/>
<line x1="1635.84" y1="258.90" x2="1635.84" y2="276.60" stroke="#0000ff" stroke-width="2.0"/>
<line x1="1631.84" y1="258.90" x2="1639.84" y2="258.90" stroke="#0000ff" stroke-width="2.0" stroke-linecap="round"/>
<line x1="1631.84" y1="276.60" x2="1639.84" y2="276.60" stroke="#0000ff" stroke-width="2.0" stroke-linecap="round"/>
<line x1="1668.06" y1="262.20" x2="1668.06" y2="277.40" stroke="#0000ff" stroke-width="2.0"/>
<line x1="1664.06" y1="262.20" x2="1672.06" y2="262.20" stroke="#0000ff" stroke-width="2.0" stroke-linecap="round"/>
<line x1="1664.06" y1="277.40" x2="1672.06" y2="277.40" stroke="#0000ff" stroke-width="2.0" stroke-linecap="round"/>
<line x1="1700.28" y1="251.30" x2="1700.28" y2="271.70" stroke="#0000ff" stroke-width="2.0"/>
<line x1="1696.28" y1="251.30" x2="1704.28" y2="251.30" stroke="#0000ff" stroke-width="2.0" stroke-linecap="round"/>
<line x1="1696.28" y1="271.70" x2="1704.28" y2="271.70" stroke="#0000ff" stroke-width="2.0" stroke-linecap="round"/>
<line x1="1732.50" y1="266.00" x2="1732.50" y2="279.00" stroke="#0000ff" stroke-width="2.0"/>
<line x1="1728.50" y1="266.00" x2="1736.50" y2="266.00" stroke="#0000ff" stroke-width="2.0" stroke-linecap="round"/>
<line x1="1728.50" y1="279.00" x2="1736.50" y2="279.00" stroke="#0000ff" stroke-width="2.0" stroke-linecap="round"/>
<line x1="1764.72" y1="265.20" x2="1764.72" y2="278.70" stroke="#0000ff" stroke-width="2.0"/>
<line x1="1760.72" y1="265.20" x2="1768.72" y2="265.20" stroke="#0000ff" stroke-width="2.0" stroke-linecap="round"/>
<line x1="1760.72" y1="278.70" x2="1768.72" y2="278.70" stroke="#0000ff" stroke-width="2.0" stroke-linecap="round"/>
<line x1="1796.94" y1="268.10" x2="1796.94" y2="281.90" stroke="#0000ff" stroke-width="2.0"/>
<line x1="1792.94" y1="268.10" x2="1800.94" y2="268.10" stroke="#0000ff" stroke-width="2.0" stroke-linecap="round"/>
<line x1="1792.94" y1="281.90" x2="1800.94" y2="281.90" stroke="#0000ff" stroke-width="2.0" stroke-linecap="round"/>
<line x1="1829.16" y1="264.80" x2="1829.16" y2="276.90" stroke="#0000ff" stroke-width="2.0"/>
<line x1="1825.16" y1="264.80" x2="1833.16" y2="264.80" stroke="#0000ff" stroke-width="2.0" stroke-linecap="round"/>
<line x1="1825.16" y1="276.90" x2="1833.16" y2="276.90" stroke="#0000ff" stroke-width="2.0" stroke-linecap="round"/>
<polygon points="1410.30,278.91 1414.48,286.13 1406.12,286.13" fill="#0000ff"/>
<polygon points="1442.52,273.61 1446.70,280.83 1438.34,280.83" fill="#0000ff"/>
<polygon points="1474.74,244.01 1478.92,251.23 1470.56,251.23" fill="#0000ff"/>
<polygon points="1506.96,274.11 1511.14,281.33 1502.78,281.33" fill="#0000ff"/>
<polygon points="1539.18,273.01 1543.36,280.23 1535.00,280.23" fill="#0000ff"/>
<polygon points="1571.40,278.61 1575.58,285.83 1567.22,285.83" fill="#0000ff"/>
<polygon points="1603.62,263.41 1607.80,270.63 1599.44,270.63" fill="#0000ff"/>
<polygon points="1635.84,264.41 1640.02,271.63 1631.66,271.63" fill="#0000ff"/>
<polygon points="1668.06,266.31 1672.24,273.53 1663.88,273.53" fill="#0000ff"/>
<polygon points="1700.28,258.81 1704.46,266.03 1696.10,266.03" fill="#0000ff"/>
<polygon points="1732.50,268.81 1736.68,276.03 1728.32,276.03" fill="#0000ff"/>
<polygon points="1764.72,268.61 1768.90,275.83 1760.54,275.83" fill="#0000ff"/>
<polygon points="1796.94,271.01 1801.12,278.23 1792.76,278.23" fill="#0000ff"/>
<polygon points="1829.16,267.31 1833.34,274.53 1824.98,274.53" fill="#0000ff"/>
<polyline points="1410.30,275.60 1442.52,267.50 1474.74,203.30 1506.96,120.90 1539.18,123.50 1571.40,134.90" fill="none" stroke="#ff0000" stroke-width="2.0" stroke-linejoin="round"/>
<line x1="1410.30" y1="264.00" x2="1410.30" y2="287.80" stroke="#ff0000" stroke-width="2.0"/>
<line x1="1406.30" y1="264.00" x2="1414.30" y2="264.00" stroke="#ff0000" stroke-width="2.0" stroke-linecap="round"/>
<line x1="1406.30" y1="287.80" x2="1414.30" y2="287.80" stroke="#ff0000" stroke-width="2.0" stroke-linecap="round"/>
<line x1="1442.52" y1="256.00" x2="1442.52" y2="279.30" stroke="#ff0000" stroke-width="2.0"/>
<line x1="1438.52" y1="256.00" x2="1446.52" y2="256.00" stroke="#ff0000" stroke-width="2.0" stroke-linecap="round"/>
<line x1="1438.52" y1="279.30" x2="1446.52" y2="279.30" stroke="#ff0000" stroke-width="2.0" stroke-linecap="round"/>
<line x1="1474.74" y1="170.50" x2="1474.74" y2="236.10" stroke="#ff0000" stroke-width="2.0"/>
<line x1="1470.74" y1="170.50" x2="1478.74" y2="170.50" stroke="#ff0000" stroke-width="2.0" stroke-linecap="round"/>
<line x1="1470.74" y1="236.10" x2="1478.74" y2="236.10" stroke="#ff0000" stroke-width="2.0" stroke-linecap="round"/>
<line x1="1506.96" y1="94.90" x2="1506.96" y2="146.80" stroke="#ff0000" stroke-width="2.0"/>
<line x1="1502.96" y1="94.90" x2="1510.96" y2="94.90" stroke="#ff0000" stroke-width="2.0" stroke-linecap="round"/>
<line x1="1502.96" y1="146.80" x2="1510.96" y2="146.80" stroke="#ff0000" stroke-width="2.0" stroke-linecap="round"/>
<line x1="1539.18" y1="99.80" x2="1539.18" y2="147.20" stroke="#ff0000" stroke-width="2.0"/>
<line x1="1535.18" y1="99.80" x2="1543.18" y2="99.80" stroke="#ff0000" stroke-width="2.0" stroke-linecap="round"/>
<line x1="1535.18" y1="147.20" x2="1543.18" y2="147.20" stroke="#ff0000" stroke-width="2.0" stroke-linecap="round"/>
<line x1="1571.40" y1="103.00" x2="1571.40" y2="166.10" stroke="#ff0000" stroke-width="2.0"/>
<line x1="1567.40" y1="103.00" x2="1575.40" y2="103.00" stroke="#ff0000" stroke-width="2.0" stroke-linecap="round"/>
<line x1="1567.40" y1="166.10" x2="1575.40" y2="166.10" stroke="#ff0000" stroke-width="2.0" stroke-linecap="round"/>
<circle cx="1410.30" cy="275.60" r="3.85" fill="#ff0000"/>
<circle cx="1442.52" cy="267.50" r="3.85" fill="#ff0000"/>
<circle cx="1474.74" cy="203.30" r="3.85" fill="#ff0000"/>
<circle cx="1506.96" cy="120.90" r="3.85" fill="#ff0000"/>
<circle cx="1539.18" cy="123.50" r="3.85" fill="#ff0000"/>
<circle cx="1571.40" cy="134.90" r="3.85" fill="#ff0000"/>
<polyline points="1410.30,278.50 1442.52,283.00 1474.74,246.90 1506.96,155.10 1539.18,173.50 1571.40,189.30" fill="none" stroke="#008040" stroke-width="2.0" stroke-linejoin="round"/>
<line x1="1410.30" y1="275.20" x2="1410.30" y2="285.90" stroke="#008040" stroke-width="2.0"/>
<line x1="1406.30" y1="275.20" x2="1414.30" y2="275.20" stroke="#008040" stroke-width="2.0" stroke-linecap="round"/>
<line x1="1406.30" y1="285.90" x2="1414.30" y2="285.90" stroke="#008040" stroke-width="2.0" stroke-linecap="round"/>
<line x1="1474.74" y1="236.20" x2="1474.74" y2="261.10" stroke="#008040" stroke-width="2.0"/>
<line x1="1470.74" y1="236.20" x2="1478.74" y2="236.20" stroke="#008040" stroke-width="2.0" stroke-linecap="round"/>
<line x1="1470.74" y1="261.10" x2="1478.74" y2="261.10" stroke="#008040" stroke-width="2.0" stroke-linecap="round"/>
<line x1="1506.96" y1="151.60" x2="1506.96" y2="161.20" stroke="#008040" stroke-width="2.0"/>
<line x1="1502.96" y1="151.60" x2="1510.96" y2="151.60" stroke="#008040" stroke-width="2.0" stroke-linecap="round"/>
<line x1="1502.96" y1="161.20" x2="1510.96" y2="161.20" stroke="#008040" stroke-width="2.0" stroke-linecap="round"/>
<line x1="1539.18" y1="166.50" x2="1539.18" y2="180.50" stroke="#008040" stroke-width="2.0"/>
<line x1="1535.18" y1="166.50" x2="1543.18" y2="166.50" stroke="#008040" stroke-width="2.0" stroke-linecap="round"/>
<line x1="1535.18" y1="180.50" x2="1543.18" y2="180.50" stroke="#008040" stroke-width="2.0" stroke-linecap="round"/>
<polygon points="1410.30,282.49 1414.48,275.27 1406.12,275.27" fill="#008040"/>
<polygon points="1442.52,286.99 1446.70,279.77 1438.34,279.77" fill="#008040"/>
<polygon points="1474.74,250.89 1478.92,243.67 1470.56,243.67" fill="#008040"/>
<polygon points="1506.96,159.09 1511.14,151.87 1502.78,151.87" fill="#008040"/>
<polygon points="1539.18,177.49 1543.36,170.27 1535.00,170.27" fill="#008040"/>
<polygon points="1571.40,193.29 1575.58,186.07 1567.22,186.07" fill="#008040"/>
<rect x="75.80" y="822.60" width="19.30" height="33.20" fill="#000000"/>
<rect x="105.20" y="705.48" width="19.30" height="150.32" fill="#ff0000"/>
<line x1="114.85" y1="705.48" x2="114.85" y2="668.96" stroke="#ff0000" stroke-width="2"/>
<line x1="109.95" y1="668.96" x2="119.75" y2="668.96" stroke="#ff0000" stroke-width="2.0" stroke-linecap="round"/>
<rect x="134.70" y="822.60" width="19.30" height="33.20" fill="#0000ff"/>
<rect x="164.20" y="822.60" width="19.30" height="33.20" fill="#ff8000"/>
<rect x="193.60" y="644.28" width="19.30" height="211.52" fill="#008040"/>
<line x1="203.25" y1="644.28" x2="203.25" y2="633.10" stroke="#008040" stroke-width="2"/>
<line x1="198.35" y1="633.10" x2="208.15" y2="633.10" stroke="#008040" stroke-width="2.0" stroke-linecap="round"/>
<rect x="242.75" y="822.60" width="19.30" height="33.20" fill="#000000"/>
<rect x="272.15" y="645.60" width="19.30" height="210.20" fill="#ff0000"/>
<line x1="281.80" y1="645.60" x2="281.80" y2="605.13" stroke="#ff0000" stroke-width="2"/>
<line x1="276.90" y1="605.13" x2="286.70" y2="605.13" stroke="#ff0000" stroke-width="2.0" stroke-linecap="round"/>
<rect x="301.65" y="822.60" width="19.30" height="33.20" fill="#0000ff"/>
<rect x="331.15" y="822.60" width="19.30" height="33.20" fill="#ff8000"/>
<rect x="360.55" y="569.27" width="19.30" height="286.53" fill="#008040"/>
<line x1="370.20" y1="569.27" x2="370.20" y2="533.41" stroke="#008040" stroke-width="2"/>
<line x1="365.30" y1="533.41" x2="375.10" y2="533.41" stroke="#008040" stroke-width="2.0" stroke-linecap="round"/>
<rect x="409.70" y="822.60" width="19.30" height="33.20" fill="#000000"/>
<rect x="439.10" y="628.49" width="19.30" height="227.31" fill="#ff0000"/>
<line x1="448.75" y1="628.49" x2="448.75" y2="609.74" stroke="#ff0000" stroke-width="2"/>
<line x1="443.85" y1="609.74" x2="453.65" y2="609.74" stroke="#ff0000" stroke-width="2.0" stroke-linecap="round"/>
<rect x="468.60" y="822.60" width="19.30" height="33.20" fill="#0000ff"/>
<rect x="498.10" y="822.60" width="19.30" height="33.20" fill="#ff8000"/>
<rect x="527.50" y="563.35" width="19.30" height="292.45" fill="#008040"/>
<line x1="537.15" y1="563.35" x2="537.15" y2="561.05" stroke="#008040" stroke-width="2"/>
<line x1="532.25" y1="561.05" x2="542.05" y2="561.05" stroke="#008040" stroke-width="2.0" stroke-linecap="round"/>
<rect x="576.65" y="822.60" width="19.30" height="33.20" fill="#000000"/>
<rect x="606.05" y="637.37" width="19.30" height="218.43" fill="#ff0000"/>
<line x1="615.70" y1="637.37" x2="615.70" y2="579.14" stroke="#ff0000" stroke-width="2"/>
<line x1="610.80" y1="579.14" x2="620.60" y2="579.14" stroke="#ff0000" stroke-width="2.0" stroke-linecap="round"/>
<rect x="635.55" y="822.60" width="19.30" height="33.20" fill="#0000ff"/>
<rect x="665.05" y="822.60" width="19.30" height="33.20" fill="#ff8000"/>
<rect x="694.45" y="584.40" width="19.30" height="271.40" fill="#008040"/>
<line x1="704.10" y1="584.40" x2="704.10" y2="557.43" stroke="#008040" stroke-width="2"/>
<line x1="699.20" y1="557.43" x2="709.00" y2="557.43" stroke="#008040" stroke-width="2.0" stroke-linecap="round"/>
<line x1="65.80" y1="525.30" x2="65.80" y2="857.40" stroke="#000" stroke-width="3.5"/>
<line x1="57.50" y1="855.50" x2="65.80" y2="855.50" stroke="#000" stroke-width="3.2"/>
<line x1="57.50" y1="822.60" x2="65.80" y2="822.60" stroke="#000" stroke-width="3.2"/>
<line x1="57.50" y1="789.70" x2="65.80" y2="789.70" stroke="#000" stroke-width="3.2"/>
<line x1="57.50" y1="756.80" x2="65.80" y2="756.80" stroke="#000" stroke-width="3.2"/>
<line x1="57.50" y1="723.90" x2="65.80" y2="723.90" stroke="#000" stroke-width="3.2"/>
<line x1="57.50" y1="691.00" x2="65.80" y2="691.00" stroke="#000" stroke-width="3.2"/>
<line x1="57.50" y1="658.10" x2="65.80" y2="658.10" stroke="#000" stroke-width="3.2"/>
<line x1="57.50" y1="625.20" x2="65.80" y2="625.20" stroke="#000" stroke-width="3.2"/>
<line x1="57.50" y1="592.30" x2="65.80" y2="592.30" stroke="#000" stroke-width="3.2"/>
<line x1="57.50" y1="559.40" x2="65.80" y2="559.40" stroke="#000" stroke-width="3.2"/>
<line x1="57.50" y1="526.50" x2="65.80" y2="526.50" stroke="#000" stroke-width="3.2"/>
<line x1="56.60" y1="855.80" x2="724.50" y2="855.80" stroke="#000" stroke-width="3.2"/>
<line x1="144.35" y1="855.80" x2="144.35" y2="864.50" stroke="#000" stroke-width="3.0"/>
<line x1="311.30" y1="855.80" x2="311.30" y2="864.50" stroke="#000" stroke-width="3.0"/>
<line x1="478.25" y1="855.80" x2="478.25" y2="864.50" stroke="#000" stroke-width="3.0"/>
<line x1="645.20" y1="855.80" x2="645.20" y2="864.50" stroke="#000" stroke-width="3.0"/>
<line x1="69.53" y1="823.10" x2="727.00" y2="823.10" stroke="#000" stroke-width="2.4" stroke-linecap="round" stroke-dasharray="0 4.4393"/>
<rect x="727.65" y="810.55" width="55.60" height="30.70" fill="none" stroke="#000000" stroke-width="3.1"/>
<line x1="863.10" y1="528.20" x2="863.10" y2="850.00" stroke="#000" stroke-width="5"/>
<line x1="850.90" y1="847.70" x2="863.10" y2="847.70" stroke="#000" stroke-width="5"/>
<line x1="850.90" y1="789.80" x2="863.10" y2="789.80" stroke="#000" stroke-width="5"/>
<line x1="850.90" y1="731.90" x2="863.10" y2="731.90" stroke="#000" stroke-width="5"/>
<line x1="850.90" y1="674.00" x2="863.10" y2="674.00" stroke="#000" stroke-width="5"/>
<line x1="850.90" y1="616.10" x2="863.10" y2="616.10" stroke="#000" stroke-width="5"/>
<line x1="850.90" y1="558.20" x2="863.10" y2="558.20" stroke="#000" stroke-width="5"/>
<line x1="860.50" y1="847.70" x2="1344.40" y2="847.70" stroke="#000" stroke-width="4.7"/>
<line x1="862.80" y1="847.70" x2="862.80" y2="860.50" stroke="#000" stroke-width="4.5"/>
<line x1="922.71" y1="847.70" x2="922.71" y2="860.50" stroke="#000" stroke-width="4.5"/>
<line x1="982.62" y1="847.70" x2="982.62" y2="860.50" stroke="#000" stroke-width="4.5"/>
<line x1="1042.53" y1="847.70" x2="1042.53" y2="860.50" stroke="#000" stroke-width="4.5"/>
<line x1="1102.44" y1="847.70" x2="1102.44" y2="860.50" stroke="#000" stroke-width="4.5"/>
<line x1="1162.35" y1="847.70" x2="1162.35" y2="860.50" stroke="#000" stroke-width="4.5"/>
<line x1="1222.26" y1="847.70" x2="1222.26" y2="860.50" stroke="#000" stroke-width="4.5"/>
<line x1="1282.17" y1="847.70" x2="1282.17" y2="860.50" stroke="#000" stroke-width="4.5"/>
<line x1="1342.08" y1="847.70" x2="1342.08" y2="860.50" stroke="#000" stroke-width="4.5"/>
<line x1="863.00" y1="548.60" x2="1342.00" y2="548.60" stroke="#ff8000" stroke-width="3"/>
<line x1="863.00" y1="566.00" x2="1342.00" y2="566.00" stroke="#0000ff" stroke-width="3"/>
<polyline points="1162.30,557.10 1162.30,789.50 1222.30,789.50 1222.30,846.00" fill="none" stroke="#008040" stroke-width="3" stroke-linejoin="round"/>
<polyline points="1168.40,557.10 1168.40,731.60 1228.10,731.60 1228.10,847.70" fill="none" stroke="#ff0000" stroke-width="3" stroke-linejoin="round"/>
<line x1="863.00" y1="557.10" x2="1342.00" y2="557.10" stroke="#000000" stroke-width="3.2"/>
<polygon points="1162.30,794.46 1169.07,782.77 1155.53,782.77" fill="#008040"/>
<polygon points="1222.30,848.77 1228.35,838.33 1216.25,838.33" fill="#008040"/>
<circle cx="1168.40" cy="731.60" r="6.25" fill="#ff0000"/>
<circle cx="1228.10" cy="847.70" r="6.25" fill="#ff0000"/>
<polygon points="1342.60,541.75 1348.35,547.50 1342.60,553.25 1336.85,547.50" fill="#ff8000"/>
<polygon points="1342.60,560.46 1348.92,571.39 1336.27,571.39" fill="#0000ff"/>
<rect x="1336.20" y="551.10" width="12.80" height="12.80" fill="#000000"/>
<text x="1152.78" y="549.77" font-size="24.6" font-weight="bold" letter-spacing="2.63">**</text>
<rect x="1420.10" y="631.40" width="37.90" height="22.50" fill="#000000"/>
<rect x="1422.30" y="677.10" width="33.50" height="17.70" fill="#ff0000"/>
<rect x="1422.90" y="721.10" width="33.10" height="17.60" fill="#0000ff"/>
<rect x="1422.30" y="764.50" width="33.50" height="17.60" fill="#ff8000"/>
<rect x="1422.30" y="807.00" width="33.50" height="17.70" fill="#008040"/>
<text transform="translate(0.63,14.80) scale(0.9978,1)" font-size="19.51" font-weight="bold">(a)</text>
<text transform="translate(629.07,100.91) scale(0.9908,1)" font-size="19.30">LOD</text>
<text transform="translate(629.51,390.02) scale(1.0266,1)" font-size="18.17">LOD</text>
<text transform="translate(23.37,319.58) rotate(-90) scale(1.1389,1)" font-size="15.96" font-weight="bold">Neutralizing Ab titers</text>
<text transform="translate(110.39,412.22) scale(0.9623,1)" font-size="17.75" font-weight="bold">PBS</text>
<text transform="translate(186.98,411.98) scale(1.0635,1)" font-size="16.24" font-weight="bold">EILV/CHIKV</text>
<text transform="translate(292.91,411.98) scale(1.0591,1)" font-size="16.24" font-weight="bold">CHIKV/IRES</text>
<text transform="translate(402.69,411.98) scale(1.0562,1)" font-size="16.24" font-weight="bold">MAYV/IRES</text>
<text transform="translate(530.88,412.03)" font-size="17.32" font-weight="bold">SHAM</text>
<text transform="translate(357.99,469.79) scale(0.9712,1)" font-size="21.22" font-weight="bold">Viremia</text>
<text transform="translate(758.12,18.68) scale(0.9778,1)" font-size="20.11" font-weight="bold">(b)</text>
<text transform="translate(1004.34,445.18) scale(1.0669,1)" font-size="18.18" font-weight="bold">Days post-infection</text>
<text transform="translate(794.54,346.46) rotate(-90) scale(1.0549,1)" font-size="18.40" font-weight="bold">Percent of Original Weight</text>
<text transform="translate(947.69,175.42)" font-size="25.68" font-weight="bold">*</text>
<text transform="translate(979.10,141.44)" font-size="25.14" font-weight="bold">*</text>
<text transform="translate(1344.82,18.68) scale(0.9769,1)" font-size="20.11" font-weight="bold">(c)</text>
<text transform="translate(1575.64,439.88) scale(1.0681,1)" font-size="18.18" font-weight="bold">Days post-infection</text>
<text transform="translate(1365.91,319.18) rotate(-90) scale(1.1799,1)" font-size="16.70" font-weight="bold">Footpad Swelling (mm)</text>
<text transform="translate(1437.46,253.51)" font-size="23.78" font-weight="bold">*</text>
<text transform="translate(1468.96,170.31)" font-size="23.78" font-weight="bold">*</text>
<text transform="translate(1500.96,94.11)" font-size="23.78" font-weight="bold">*</text>
<text transform="translate(1533.86,100.71)" font-size="23.78" font-weight="bold">*</text>
<text transform="translate(-0.17,501.99) scale(0.9914,1)" font-size="19.57" font-weight="bold">(d)</text>
<text transform="translate(111.04,666.28)" font-size="26.49" font-weight="bold">*</text>
<text transform="translate(200.14,628.88)" font-size="26.49" font-weight="bold">*</text>
<text transform="translate(278.34,604.88)" font-size="26.49" font-weight="bold">*</text>
<text transform="translate(366.14,530.68)" font-size="26.49" font-weight="bold">*</text>
<text transform="translate(444.34,607.88)" font-size="26.49" font-weight="bold">*</text>
<text transform="translate(532.14,560.18)" font-size="26.49" font-weight="bold">*</text>
<text transform="translate(610.54,579.68)" font-size="26.49" font-weight="bold">*</text>
<text transform="translate(698.14,559.08)" font-size="26.49" font-weight="bold">*</text>
<text transform="translate(731.94,831.61) scale(0.9838,1)" font-size="18.59">LOD</text>
<text transform="translate(312.54,905.95) scale(1.0587,1)" font-size="16.90" font-weight="bold">Days post-infection</text>
<text transform="translate(20.66,780.98) rotate(-90) scale(1.1572,1)" font-size="15.53" font-weight="bold">Viremia Log10 pfu/ml</text>
<text transform="translate(759.23,507.17) scale(0.9891,1)" font-size="19.68" font-weight="bold">(e)</text>
<text transform="translate(997.84,902.99) scale(1.0442,1)" font-size="18.61" font-weight="bold">Days post-infection</text>
<text transform="translate(805.80,785.06) rotate(-90) scale(0.9750,1)" font-size="19.86" font-weight="bold">Percent survival</text>
<text transform="translate(1473.03,651.04) scale(0.9841,1)" font-size="26.34">PBS</text>
<text transform="translate(1532.32,648.80) scale(1.0203,1)" font-size="20.96">(PBS vaccinated; PBS challenged)</text>
<text transform="translate(1473.09,694.55) scale(0.9929,1)" font-size="25.31">EILV/CHIKV</text>
<text transform="translate(1622.01,690.43) scale(1.0108,1)" font-size="21.28">(CHIKV vaccine)</text>
<text transform="translate(1473.94,738.34) scale(0.9869,1)" font-size="25.58">CHIKV/IRES</text>
<text transform="translate(1623.41,734.20) scale(1.0223,1)" font-size="20.96">(CHIKV vaccine)</text>
<text transform="translate(1473.17,781.36) scale(1.0420,1)" font-size="24.35">MAYV/IRES</text>
<text transform="translate(1623.41,779.29) scale(0.9978,1)" font-size="21.50">(MAYV vaccine)</text>
<text transform="translate(1473.85,824.44) scale(0.9803,1)" font-size="26.06">SHAM</text>
<text transform="translate(1553.92,821.13) scale(0.9616,1)" font-size="22.25">(PBS vaccinated; MAYV challenged)</text>
<text transform="translate(56.52,395.52) scale(0.9676,1)" font-size="18.03" font-weight="bold">0</text>
<text transform="translate(46.83,372.48) scale(0.9676,1)" font-size="18.03" font-weight="bold">50</text>
<text transform="translate(37.07,349.45) scale(0.9676,1)" font-size="18.03" font-weight="bold">100</text>
<text transform="translate(37.07,326.41) scale(0.9676,1)" font-size="18.03" font-weight="bold">150</text>
<text transform="translate(37.07,303.38) scale(0.9676,1)" font-size="18.03" font-weight="bold">200</text>
<text transform="translate(37.07,280.34) scale(0.9676,1)" font-size="18.03" font-weight="bold">250</text>
<text transform="translate(37.07,257.31) scale(0.9676,1)" font-size="18.03" font-weight="bold">300</text>
<text transform="translate(37.07,234.27) scale(0.9676,1)" font-size="18.03" font-weight="bold">350</text>
<text transform="translate(37.07,211.24) scale(0.9676,1)" font-size="18.03" font-weight="bold">400</text>
<text transform="translate(37.07,188.20) scale(0.9676,1)" font-size="18.03" font-weight="bold">450</text>
<text transform="translate(37.07,165.17) scale(0.9676,1)" font-size="18.03" font-weight="bold">500</text>
<text transform="translate(37.07,142.13) scale(0.9676,1)" font-size="18.03" font-weight="bold">550</text>
<text transform="translate(37.07,119.10) scale(0.9676,1)" font-size="18.03" font-weight="bold">600</text>
<text transform="translate(37.07,96.06) scale(0.9676,1)" font-size="18.03" font-weight="bold">650</text>
<text transform="translate(37.07,73.03) scale(0.9676,1)" font-size="18.03" font-weight="bold">700</text>
<text transform="translate(820.16,395.57) scale(0.9569,1)" font-size="25.14" font-weight="bold">80</text>
<text transform="translate(820.16,291.67) scale(0.9569,1)" font-size="25.14" font-weight="bold">90</text>
<text transform="translate(806.69,187.77) scale(0.9569,1)" font-size="25.14" font-weight="bold">100</text>
<text transform="translate(808.01,83.87) scale(0.9569,1)" font-size="25.14" font-weight="bold">110</text>
<text transform="translate(853.50,421.55) scale(0.9486,1)" font-size="25.07" font-weight="bold">0</text>
<text transform="translate(884.12,421.55) scale(0.9486,1)" font-size="25.07" font-weight="bold">1</text>
<text transform="translate(915.74,421.55) scale(0.9486,1)" font-size="25.07" font-weight="bold">2</text>
<text transform="translate(946.89,421.55) scale(0.9486,1)" font-size="25.07" font-weight="bold">3</text>
<text transform="translate(977.74,421.55) scale(0.9486,1)" font-size="25.07" font-weight="bold">4</text>
<text transform="translate(1008.89,421.55) scale(0.9486,1)" font-size="25.07" font-weight="bold">5</text>
<text transform="translate(1040.04,421.55) scale(0.9486,1)" font-size="25.07" font-weight="bold">6</text>
<text transform="translate(1071.13,421.55) scale(0.9486,1)" font-size="25.07" font-weight="bold">7</text>
<text transform="translate(1102.22,421.55) scale(0.9486,1)" font-size="25.07" font-weight="bold">8</text>
<text transform="translate(1133.31,421.55) scale(0.9486,1)" font-size="25.07" font-weight="bold">9</text>
<text transform="translate(1157.50,421.55) scale(0.9486,1)" font-size="25.07" font-weight="bold">10</text>
<text transform="translate(1189.07,421.55) scale(0.9486,1)" font-size="25.07" font-weight="bold">11</text>
<text transform="translate(1219.68,421.55) scale(0.9486,1)" font-size="25.07" font-weight="bold">12</text>
<text transform="translate(1250.71,421.55) scale(0.9486,1)" font-size="25.07" font-weight="bold">13</text>
<text transform="translate(1281.45,421.55) scale(0.9486,1)" font-size="25.07" font-weight="bold">14</text>
<text transform="translate(1312.78,421.55) scale(0.9486,1)" font-size="25.07" font-weight="bold">15</text>
<text transform="translate(1381.34,398.20) scale(0.9760,1)" font-size="15.07" font-weight="bold">0.0</text>
<text transform="translate(1381.20,350.50) scale(0.9760,1)" font-size="15.07" font-weight="bold">0.5</text>
<text transform="translate(1381.34,302.80) scale(0.9760,1)" font-size="15.07" font-weight="bold">1.0</text>
<text transform="translate(1381.20,255.10) scale(0.9760,1)" font-size="15.07" font-weight="bold">1.5</text>
<text transform="translate(1381.34,207.40) scale(0.9760,1)" font-size="15.07" font-weight="bold">2.0</text>
<text transform="translate(1381.20,159.70) scale(0.9760,1)" font-size="15.07" font-weight="bold">2.5</text>
<text transform="translate(1381.34,112.00) scale(0.9760,1)" font-size="15.07" font-weight="bold">3.0</text>
<text transform="translate(1381.20,64.30) scale(0.9760,1)" font-size="15.07" font-weight="bold">3.5</text>
<text transform="translate(1405.89,414.05) scale(0.9965,1)" font-size="15.21" font-weight="bold">0</text>
<text transform="translate(1437.81,414.05) scale(0.9965,1)" font-size="15.21" font-weight="bold">1</text>
<text transform="translate(1470.37,414.05) scale(0.9965,1)" font-size="15.21" font-weight="bold">2</text>
<text transform="translate(1502.63,414.05) scale(0.9965,1)" font-size="15.21" font-weight="bold">3</text>
<text transform="translate(1534.70,414.05) scale(0.9965,1)" font-size="15.21" font-weight="bold">4</text>
<text transform="translate(1566.96,414.05) scale(0.9965,1)" font-size="15.21" font-weight="bold">5</text>
<text transform="translate(1599.21,414.05) scale(0.9965,1)" font-size="15.21" font-weight="bold">6</text>
<text transform="translate(1631.43,414.05) scale(0.9965,1)" font-size="15.21" font-weight="bold">7</text>
<text transform="translate(1663.65,414.05) scale(0.9965,1)" font-size="15.21" font-weight="bold">8</text>
<text transform="translate(1695.87,414.05) scale(0.9965,1)" font-size="15.21" font-weight="bold">9</text>
<text transform="translate(1723.70,414.05) scale(0.9965,1)" font-size="15.21" font-weight="bold">10</text>
<text transform="translate(1756.22,414.05) scale(0.9965,1)" font-size="15.21" font-weight="bold">11</text>
<text transform="translate(1788.14,414.05) scale(0.9965,1)" font-size="15.21" font-weight="bold">12</text>
<text transform="translate(1820.32,414.05) scale(0.9965,1)" font-size="15.21" font-weight="bold">13</text>
<text transform="translate(1852.31,414.05) scale(0.9965,1)" font-size="15.21" font-weight="bold">14</text>
<text transform="translate(47.34,861.62) scale(0.9588,1)" font-size="17.75" font-weight="bold">0</text>
<text transform="translate(47.08,828.72) scale(0.9588,1)" font-size="17.75" font-weight="bold">1</text>
<text transform="translate(47.34,795.82) scale(0.9588,1)" font-size="17.75" font-weight="bold">2</text>
<text transform="translate(47.25,762.92) scale(0.9588,1)" font-size="17.75" font-weight="bold">3</text>
<text transform="translate(46.74,730.02) scale(0.9588,1)" font-size="17.75" font-weight="bold">4</text>
<text transform="translate(47.08,697.12) scale(0.9588,1)" font-size="17.75" font-weight="bold">5</text>
<text transform="translate(47.25,664.22) scale(0.9588,1)" font-size="17.75" font-weight="bold">6</text>
<text transform="translate(47.42,631.32) scale(0.9588,1)" font-size="17.75" font-weight="bold">7</text>
<text transform="translate(47.17,598.42) scale(0.9588,1)" font-size="17.75" font-weight="bold">8</text>
<text transform="translate(47.25,565.52) scale(0.9588,1)" font-size="17.75" font-weight="bold">9</text>
<text transform="translate(37.89,532.62) scale(0.9588,1)" font-size="17.75" font-weight="bold">10</text>
<text transform="translate(139.27,880.30) scale(0.9722,1)" font-size="17.57" font-weight="bold">1</text>
<text transform="translate(306.60,880.30) scale(0.9722,1)" font-size="17.57" font-weight="bold">2</text>
<text transform="translate(473.59,880.30) scale(0.9722,1)" font-size="17.57" font-weight="bold">3</text>
<text transform="translate(640.37,880.30) scale(0.9722,1)" font-size="17.57" font-weight="bold">4</text>
<text transform="translate(835.96,856.34) scale(0.9445,1)" font-size="25.77" font-weight="bold">0</text>
<text transform="translate(822.45,798.44) scale(0.9445,1)" font-size="25.77" font-weight="bold">20</text>
<text transform="translate(822.45,740.54) scale(0.9445,1)" font-size="25.77" font-weight="bold">40</text>
<text transform="translate(822.45,682.64) scale(0.9445,1)" font-size="25.77" font-weight="bold">60</text>
<text transform="translate(822.45,624.74) scale(0.9445,1)" font-size="25.77" font-weight="bold">80</text>
<text transform="translate(808.82,566.84) scale(0.9445,1)" font-size="25.77" font-weight="bold">100</text>
<text transform="translate(856.40,882.75) scale(0.9347,1)" font-size="25.07" font-weight="bold">0</text>
<text transform="translate(915.84,882.75) scale(0.9347,1)" font-size="25.07" font-weight="bold">1</text>
<text transform="translate(976.28,882.75) scale(0.9347,1)" font-size="25.07" font-weight="bold">2</text>
<text transform="translate(1036.24,882.75) scale(0.9347,1)" font-size="25.07" font-weight="bold">3</text>
<text transform="translate(1095.92,882.75) scale(0.9347,1)" font-size="25.07" font-weight="bold">4</text>
<text transform="translate(1155.89,882.75) scale(0.9347,1)" font-size="25.07" font-weight="bold">5</text>
<text transform="translate(1215.86,882.75) scale(0.9347,1)" font-size="25.07" font-weight="bold">6</text>
<text transform="translate(1275.77,882.75) scale(0.9347,1)" font-size="25.07" font-weight="bold">7</text>
<text transform="translate(1335.68,882.75) scale(0.9347,1)" font-size="25.07" font-weight="bold">8</text>
</svg>
</body></html>
